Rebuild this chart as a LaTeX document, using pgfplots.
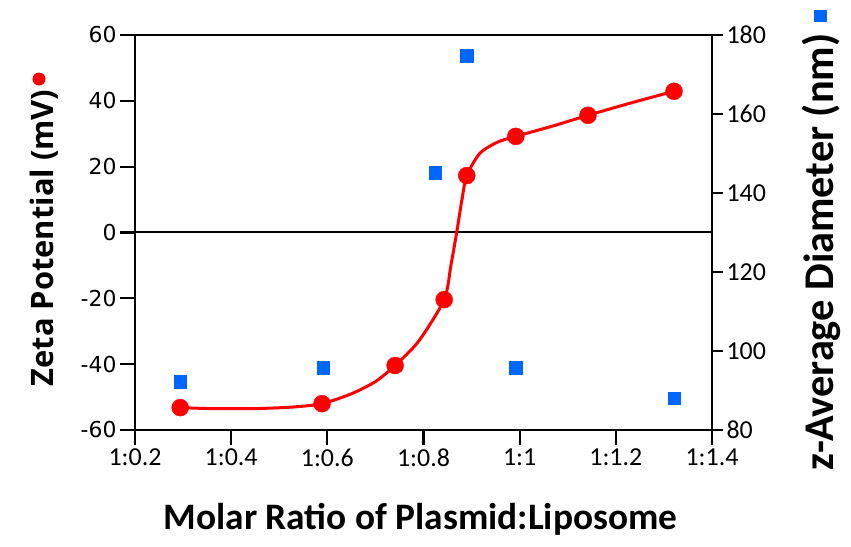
\documentclass[border=0pt]{standalone}
\usepackage{pgfplots}
\pgfplotsset{compat=1.18}
\usepackage{fontspec}
\setmainfont{Carlito}
\newfontfamily\dejavu{DejaVu Sans}
\newfontfamily\opensans{Open Sans}

\definecolor{zred}{RGB}{255,0,0}
\definecolor{zblue}{RGB}{0,102,255}

\pgfplotsset{
  common/.style={
    scale only axis,
    width=577bp, height=395bp,
    xmin=0.2, xmax=1.4,
    tick align=outside,
    axis line style={line width=2.2bp},
    every tick/.style={black, line width=2.2bp},
  },
}

\begin{document}
\begin{tikzpicture}
  % zeta potential, left axis
  \begin{axis}[
    common,
    major tick length=15bp,
    ymin=-60, ymax=60,
    ytick={-60,-40,-20,0,20,40,60},
    yticklabels={-60,-40,-20,0,20,40,60},
    xtick={0.2,0.4,0.6,0.8,1.0,1.2,1.4},
    xticklabels={1:0.2,1:0.4,1:0.6,1:0.8,1:1,1:1.2,1:1.4},
    xtick pos=bottom, ytick pos=left,
    yticklabel style={font=\dejavu\fontsize{22}{24}\selectfont},
    xticklabel style={font=\fontsize{26}{28}\selectfont},
    xlabel={\bfseries Molar Ratio of Plasmid:Liposome},
    xlabel style={font=\fontsize{37.5}{40}\selectfont,
      at={(axis description cs:0.4948,-0.253)}, anchor=base},
    ylabel={\opensans\bfseries Zeta Potential (mV)\hspace{4bp}\tikz[baseline=0pt]\fill[zred] (6.5bp,14bp) circle[radius=6.5bp];},
    ylabel style={font=\fontsize{31}{33}\selectfont,
      at={(axis description cs:-0.1421,0.5076)}, anchor=base},
  ]
    \addplot[black, line width=2bp] coordinates {(0.2,0) (1.4,0)};
    % fitted curve
    \addplot[zred, line width=3bp, smooth, tension=0.45, no markers] coordinates {
      (0.294,-53.2) (0.36,-53.5) (0.45,-53.5) (0.53,-53.0) (0.589,-52.0)
      (0.65,-49.0) (0.70,-45.3) (0.741,-40.4) (0.79,-33) (0.843,-20.4)
      (0.857,-10) (0.869,0) (0.880,10) (0.890,17.3) (0.917,24) (0.953,27.4)
      (0.992,29.2) (1.07,32.4) (1.142,35.6) (1.23,39.3) (1.321,42.9)
    };
    \addplot[only marks, mark=*, mark size=8.5bp, zred, mark options={fill=zred, draw=zred}] coordinates {
      (0.294,-53.2) (0.589,-52.0) (0.741,-40.4) (0.843,-20.4)
      (0.890,17.3) (0.992,29.2) (1.142,35.6) (1.321,42.9)
    };
  \end{axis}
  % z-average diameter, right axis
  \begin{axis}[
    common,
    major tick length=11bp,
    ymin=80, ymax=180,
    ytick={80,100,120,140,160,180},
    yticklabels={80,100,120,140,160,180},
    axis x line=none,
    axis y line*=right,
    ytick pos=right,
    yticklabel style={font=\fontsize{26}{28}\selectfont},
    ylabel={\bfseries z-Average Diameter (nm)\hspace{11bp}\tikz[baseline=0pt]\fill[zblue] (0,6.5bp) rectangle (12.5bp,19bp);},
    ylabel style={font=\fontsize{42.5}{45}\selectfont,
      at={(axis description cs:1.2097,0.481)}, anchor=base},
  ]
    \addplot[only marks, mark=square*, mark size=6.3bp, zblue, mark options={fill=zblue, draw=zblue}] coordinates {
      (0.294,92.2) (0.591,95.7) (0.824,145.1) (0.890,174.7) (0.992,95.7) (1.321,88.1)
    };
  \end{axis}
  \pgfresetboundingbox
  \useasboundingbox (-135bp,-117bp) rectangle (716bp,430bp);
\end{tikzpicture}
\end{document}
